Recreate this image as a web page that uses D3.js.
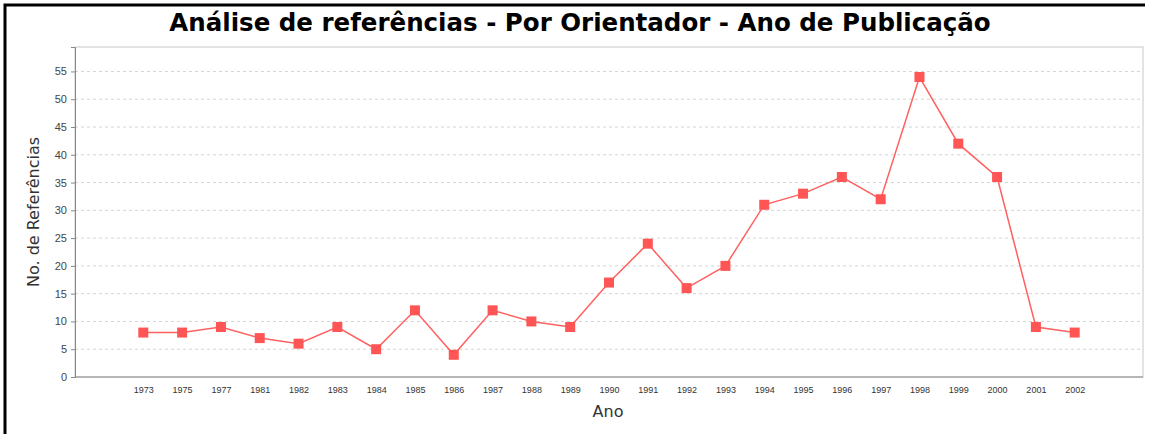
<!DOCTYPE html>
<html>
<head>
<meta charset="utf-8">
<script src="https://cdn.jsdelivr.net/npm/d3@7"></script>
<style>
  body { margin: 0; background: #fff; }
  svg { display: block; font-family: "DejaVu Sans", sans-serif; }
</style>
</head>
<body>
<svg id="chart"></svg>
<script>
// Data
const years = ['1973','1975','1977','1981','1982','1983','1984','1985','1986','1987','1988','1989',
  '1990','1991','1992','1993','1994','1995','1996','1997','1998','1999','2000','2001','2002'];
const referencias = [8, 8, 9, 7, 6, 9, 5, 12, 4, 12, 10, 9, 17, 24, 16, 20, 31, 33, 36, 32, 54, 42, 36, 9, 8];
const yTicks = [0, 5, 10, 15, 20, 25, 30, 35, 40, 45, 50, 55];

const width = 1150, height = 434;
const margin = {top: 47, right: 7, bottom: 57, left: 75};
const innerW = width - margin.left - margin.right;
const innerH = height - margin.top - margin.bottom;

const svg = d3.select('#chart')
    .attr('width', width)
    .attr('height', height);

// black frame on top and left, like the cropped original
svg.append('path')
    .attr('d', `M5,${height} L5,5 L1145,5`)
    .attr('fill', 'none')
    .attr('stroke', '#000')
    .attr('stroke-width', 3);

const chart = svg.append('g')
    .attr('transform', `translate(${margin.left},${margin.top})`);

const x = d3.scalePoint()
    .domain(years)
    .range([0, innerW])
    .padding(1.76);

const y = d3.scaleLinear()
    .domain([0, 59.4])
    .range([innerH, 0]);

// plot outline
chart.append('rect')
    .attr('width', innerW)
    .attr('height', innerH)
    .attr('fill', '#fff')
    .attr('stroke', '#c8c8c8');

// gridlines
chart.selectAll('.grid')
    .data(yTicks.filter(d => d > 0))
  .join('line')
    .attr('class', 'grid')
    .attr('x1', 0)
    .attr('x2', innerW)
    .attr('y1', d => y(d))
    .attr('y2', d => y(d))
    .attr('stroke', '#d4d4d4')
    .attr('stroke-dasharray', '3,3');

// y axis
const yAxis = chart.append('g')
    .call(d3.axisLeft(y).tickValues(yTicks).tickSize(4).tickPadding(4));
yAxis.select('.domain').attr('stroke', '#888');
yAxis.selectAll('.tick line').attr('stroke', '#888');
yAxis.selectAll('.tick text')
    .attr('fill', '#444')
    .style('font-size', '11px');

// x axis
const xAxis = chart.append('g')
    .attr('transform', `translate(0,${innerH})`)
    .call(d3.axisBottom(x).tickSize(0).tickPadding(10));
xAxis.select('.domain').attr('stroke', '#888').attr('d', `M0,0H${innerW}`);
xAxis.selectAll('.tick text')
    .attr('fill', '#333')
    .style('font-size', '9px');

// series line
const line = d3.line()
    .x((d, i) => x(years[i]))
    .y(d => y(d));

chart.append('path')
    .datum(referencias)
    .attr('d', line)
    .attr('fill', 'none')
    .attr('stroke', '#ff6060')
    .attr('stroke-width', 1.5);

chart.selectAll('.marker')
    .data(referencias)
  .join('rect')
    .attr('class', 'marker')
    .attr('x', (d, i) => x(years[i]) - 5)
    .attr('y', d => y(d) - 5)
    .attr('width', 10)
    .attr('height', 10)
    .attr('fill', '#ff5555');

// title
svg.append('text')
    .attr('x', 580)
    .attr('y', 31)
    .attr('text-anchor', 'middle')
    .style('font-size', '24.5px')
    .style('font-weight', 'bold')
    .attr('fill', '#000')
    .text('Análise de referências - Por Orientador - Ano de Publicação');

// axis titles
svg.append('text')
    .attr('transform', `translate(39,${margin.top + innerH / 2}) rotate(-90)`)
    .attr('text-anchor', 'middle')
    .style('font-size', '16px')
    .attr('fill', '#333')
    .text('No. de Referências');

svg.append('text')
    .attr('x', 608)
    .attr('y', 417)
    .attr('text-anchor', 'middle')
    .style('font-size', '16px')
    .attr('fill', '#333')
    .text('Ano');
</script>
</body>
</html>
